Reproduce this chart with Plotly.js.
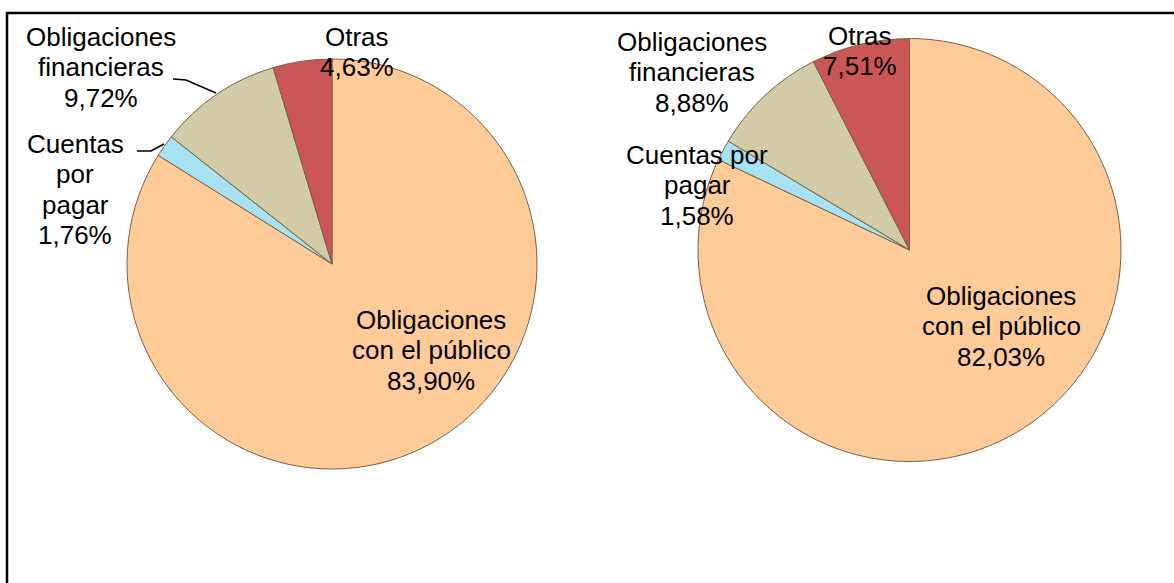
<!DOCTYPE html>
<html>
<head>
<meta charset="utf-8">
<script src="https://cdn.plot.ly/plotly-3.0.1.min.js"></script>
<style>
  html, body { margin: 0; padding: 0; background: #ffffff; }
  #chart { width: 1174px; height: 583px; }
</style>
</head>
<body>
<div id="chart"></div>
<script>
// ---- data ----
var categories = ["Obligaciones con el público", "Cuentas por pagar", "Obligaciones financieras", "Otras"];
var labelLinesLeft = [["Obligaciones", "con el público"], ["Cuentas", "por", "pagar"], ["Obligaciones", "financieras"], ["Otras"]];
var labelLinesRight = [["Obligaciones", "con el público"], ["Cuentas por", "pagar"], ["Obligaciones", "financieras"], ["Otras"]];
var valuesLeft = [83.90, 1.76, 9.72, 4.63];
var valuesRight = [82.03, 1.58, 8.88, 7.51];
var sliceColors = ["#FFCB98", "#A6E2F2", "#D1CBA6", "#CC5656"];

// ---- helpers ----
var W = 1174, H = 583;
function px(x) { return x / W; }
function py(y) { return 1 - y / H; }
function fmt(v) { return v.toFixed(2).replace(".", ",") + "%"; }

var pieStyle = {
  type: "pie",
  sort: false,
  direction: "clockwise",
  rotation: 0,
  textinfo: "none",
  hoverinfo: "label+percent",
  marker: { colors: sliceColors, line: { color: "#7d5f45", width: 1 } },
  showlegend: false
};

var traceLeft = Object.assign({}, pieStyle, {
  labels: categories,
  values: valuesLeft,
  domain: { x: [px(127), px(537)], y: [py(469), py(59)] }
});
var traceRight = Object.assign({}, pieStyle, {
  labels: categories,
  values: valuesRight,
  domain: { x: [px(698), px(1121)], y: [py(461.5), py(38.5)] }
});

// label placement: x centre and y of first line (pixels), line step 30 px
var posLeft = [[431, 320], [75, 144], [101, 37], [357, 37]];
var posRight = [[1001, 296], [697, 155], [692, 42], [860, 36]];
var lineStep = 30.3;

var font = { family: "Liberation Sans, Arial, sans-serif", size: 26, color: "#000000" };
var annotations = [];
function addLabel(lines, value, pos) {
  var all = lines.concat([fmt(value)]);
  all.forEach(function (t, k) {
    annotations.push({
      xref: "paper", yref: "paper",
      x: px(pos[0]), y: py(pos[1] + k * lineStep),
      xanchor: "center", yanchor: "middle",
      text: t, showarrow: false, font: font
    });
  });
}
categories.forEach(function (c, i) {
  addLabel(labelLinesLeft[i], valuesLeft[i], posLeft[i]);
  addLabel(labelLinesRight[i], valuesRight[i], posRight[i]);
});

function pathPx(points) {
  return points.map(function (p, i) {
    return (i === 0 ? "M" : "L") + px(p[0]) + "," + py(p[1]);
  }).join(" ");
}

var shapes = [
  // outer frame
  { type: "rect", xref: "paper", yref: "paper",
    x0: px(7), x1: 1.05, y0: -0.05, y1: py(13),
    line: { color: "#000000", width: 2.5 }, fillcolor: "rgba(0,0,0,0)", layer: "below" },
  // leader lines (left pie)
  { type: "path", xref: "paper", yref: "paper",
    path: pathPx([[173, 79], [186, 80], [216, 93]]),
    line: { color: "#000000", width: 1.5 } },
  { type: "path", xref: "paper", yref: "paper",
    path: pathPx([[137, 151], [151, 151], [164, 144]]),
    line: { color: "#000000", width: 1.5 } }
];

var layout = {
  width: W, height: H,
  margin: { l: 0, r: 0, t: 0, b: 0, pad: 0 },
  paper_bgcolor: "#ffffff",
  plot_bgcolor: "#ffffff",
  showlegend: false,
  annotations: annotations,
  shapes: shapes
};

Plotly.newPlot("chart", [traceLeft, traceRight], layout, { displayModeBar: false, staticPlot: true });
</script>
</body>
</html>
